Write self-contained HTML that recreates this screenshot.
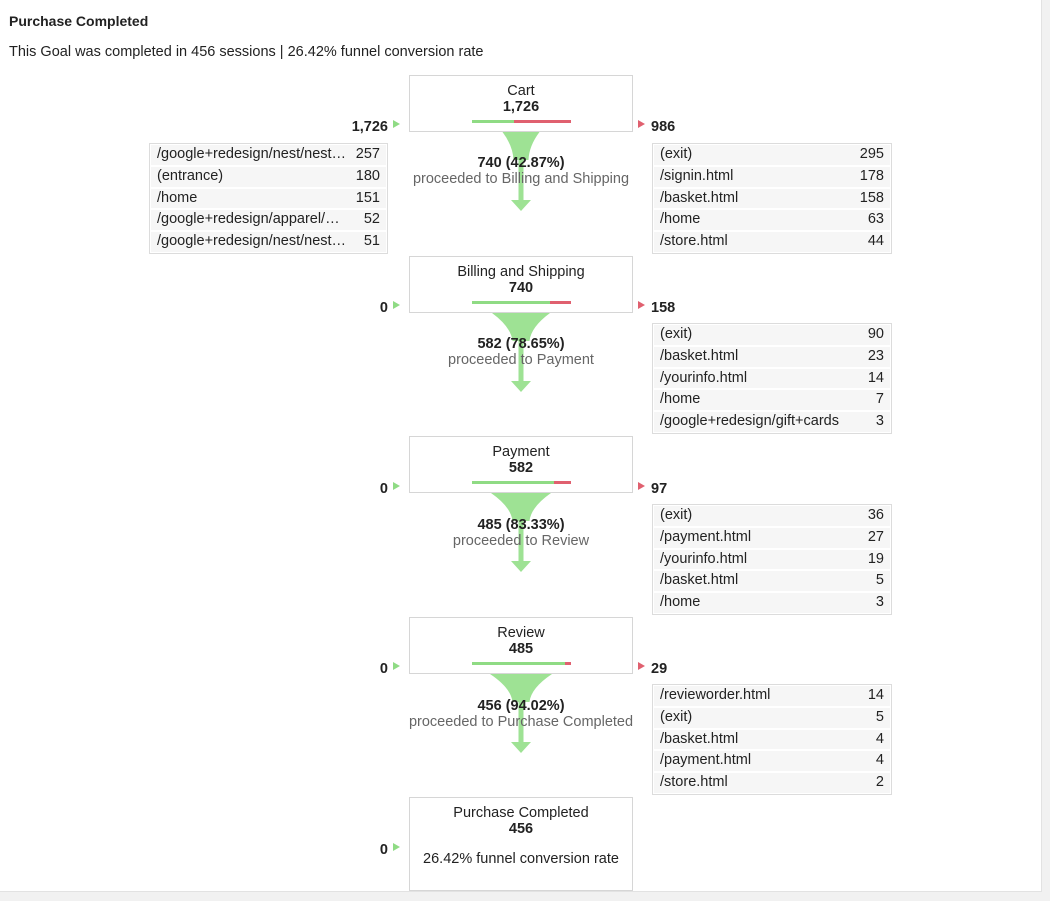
<!DOCTYPE html>
<html><head><meta charset="utf-8"><style>
body{margin:0;width:1050px;height:901px;background:#f1f1f1;font-family:"Liberation Sans",sans-serif;color:#222;position:relative;overflow:hidden}
#main{position:absolute;left:0;top:0;width:1041px;height:891px;background:#fff;border-right:1px solid #e2e2e2;border-bottom:1px solid #e2e2e2}
.a{position:absolute}
.h1{left:9px;top:13px;font-size:14px;font-weight:bold}
.sub{left:9px;top:44px;font-size:14.5px}
.box{position:absolute;left:409px;width:222px;height:55px;border:1px solid #d6d6d6;background:#fff;text-align:center;font-size:14.5px}
.box .t{position:absolute;left:0;right:0;top:7px}
.box .v{position:absolute;left:0;right:0;top:23px;font-weight:bold}
.bar{position:absolute;left:62px;top:44px;width:99px;height:3px;background:#e0606f}
.bar i{display:block;height:3px;background:#8fdb84}
.ln{position:absolute;width:230px;text-align:right;left:158px;font-size:14.5px;font-weight:bold}
.rn{position:absolute;left:651px;font-size:14.5px;font-weight:bold}
.tri{position:absolute;width:0;height:0;border-top:4px solid transparent;border-bottom:4px solid transparent}
.tg{left:393px;border-left:7px solid #8fdb84}
.tr{left:638px;border-left:7px solid #e0606f}
.tbl{position:absolute;border:1px solid #dcdcdc;background:#fff;padding:1px;font-size:14.5px}
.tbl div{height:19.8px;line-height:19.8px;background:#f6f6f6;margin-bottom:2px;padding:0 6px;display:flex;justify-content:space-between;white-space:nowrap}
.tbl div:last-child{margin-bottom:0}
.L{left:149px;width:235px}
.R{left:652px;width:236px}
.pc{position:absolute;left:371px;width:300px;text-align:center;font-size:14.5px}
.pc b{display:block}
.pc span{display:block;color:#666;margin-top:0}
svg{position:absolute;left:0;top:0}
</style></head><body><div id="main"></div>
<div class="a h1">Purchase Completed</div>
<div class="a sub">This Goal was completed in 456 sessions | 26.42% funnel conversion rate</div>

<svg width="1050" height="901">
<g fill="#9ee294">
<path d="M502.5 132 L539.5 132 Q529 146 528.5 160 L523.5 160 L523.5 200 L531 200 L521 211 L511 200 L518.5 200 L518.5 160 L513.5 160 Q513 146 502.5 132Z"/>
<path d="M492 313 L550 313 Q531 327 529.5 341 L523.5 341 L523.5 381 L531 381 L521 392 L511 381 L518.5 381 L518.5 341 L512.5 341 Q511 327 492 313Z"/>
<path d="M491 493 L551 493 Q531 507 529.5 521 L523.5 521 L523.5 561 L531 561 L521 572 L511 561 L518.5 561 L518.5 521 L512.5 521 Q511 507 491 493Z"/>
<path d="M490 674 L552 674 Q531 688 529.5 702 L523.5 702 L523.5 742 L531 742 L521 753 L511 742 L518.5 742 L518.5 702 L512.5 702 Q511 688 490 674Z"/>
</g>
</svg>

<div class="box" style="top:75px"><div class="t">Cart</div><div class="v">1,726</div><div class="bar"><i style="width:42.87%"></i></div></div>
<div class="ln" style="top:119px">1,726</div><div class="tri tg" style="top:120px"></div>
<div class="tri tr" style="top:120px"></div><div class="rn" style="top:119px">986</div>
<div class="tbl L" style="top:143px"><div><span>/google+redesign/nest/nest…</span><span>257</span></div><div><span>(entrance)</span><span>180</span></div><div><span>/home</span><span>151</span></div><div><span>/google+redesign/apparel/…</span><span>52</span></div><div><span>/google+redesign/nest/nest…</span><span>51</span></div></div>
<div class="tbl R" style="top:143px"><div><span>(exit)</span><span>295</span></div><div><span>/signin.html</span><span>178</span></div><div><span>/basket.html</span><span>158</span></div><div><span>/home</span><span>63</span></div><div><span>/store.html</span><span>44</span></div></div>
<div class="pc" style="top:155px"><b>740 (42.87%)</b><span>proceeded to Billing and Shipping</span></div>

<div class="box" style="top:256px"><div class="t">Billing and Shipping</div><div class="v">740</div><div class="bar"><i style="width:78.65%"></i></div></div>
<div class="ln" style="top:300px">0</div><div class="tri tg" style="top:301px"></div>
<div class="tri tr" style="top:301px"></div><div class="rn" style="top:300px">158</div>
<div class="tbl R" style="top:323px"><div><span>(exit)</span><span>90</span></div><div><span>/basket.html</span><span>23</span></div><div><span>/yourinfo.html</span><span>14</span></div><div><span>/home</span><span>7</span></div><div><span>/google+redesign/gift+cards</span><span>3</span></div></div>
<div class="pc" style="top:336px"><b>582 (78.65%)</b><span>proceeded to Payment</span></div>

<div class="box" style="top:436px"><div class="t">Payment</div><div class="v">582</div><div class="bar"><i style="width:83.33%"></i></div></div>
<div class="ln" style="top:481px">0</div><div class="tri tg" style="top:482px"></div>
<div class="tri tr" style="top:482px"></div><div class="rn" style="top:481px">97</div>
<div class="tbl R" style="top:504px"><div><span>(exit)</span><span>36</span></div><div><span>/payment.html</span><span>27</span></div><div><span>/yourinfo.html</span><span>19</span></div><div><span>/basket.html</span><span>5</span></div><div><span>/home</span><span>3</span></div></div>
<div class="pc" style="top:517px"><b>485 (83.33%)</b><span>proceeded to Review</span></div>

<div class="box" style="top:617px"><div class="t">Review</div><div class="v">485</div><div class="bar"><i style="width:94.02%"></i></div></div>
<div class="ln" style="top:661px">0</div><div class="tri tg" style="top:662px"></div>
<div class="tri tr" style="top:662px"></div><div class="rn" style="top:661px">29</div>
<div class="tbl R" style="top:684px"><div><span>/revieworder.html</span><span>14</span></div><div><span>(exit)</span><span>5</span></div><div><span>/basket.html</span><span>4</span></div><div><span>/payment.html</span><span>4</span></div><div><span>/store.html</span><span>2</span></div></div>
<div class="pc" style="top:698px"><b>456 (94.02%)</b><span>proceeded to Purchase Completed</span></div>

<div class="box" style="top:797px;height:92px"><div class="t">Purchase Completed</div><div class="v">456</div><div class="t" style="top:53px">26.42% funnel conversion rate</div></div>
<div class="ln" style="top:842px">0</div><div class="tri tg" style="top:843px"></div>
</body></html>
